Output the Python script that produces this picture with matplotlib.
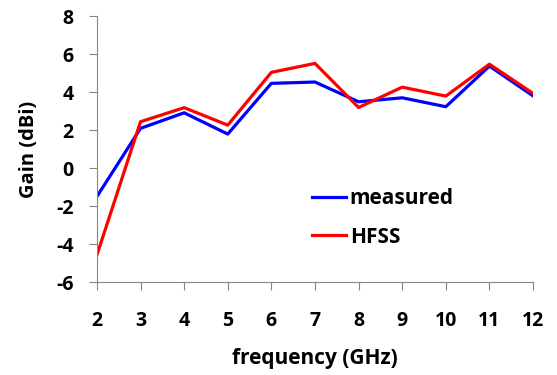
import matplotlib
matplotlib.use("Agg")
import matplotlib.pyplot as plt

## datos
freq = [2, 3, 4, 5, 6, 7, 8, 9, 10, 11, 12]
measured = [-1.5, 2.09, 2.91, 1.79, 4.46, 4.53, 3.49, 3.70, 3.23, 5.37, 3.80]
hfss = [-4.58, 2.44, 3.18, 2.26, 5.04, 5.51, 3.19, 4.26, 3.79, 5.47, 3.93]
yticks = [-6, -4, -2, 0, 2, 4, 6, 8]

plt.rcParams['font.family'] = ['Open Sans', 'DejaVu Sans']
plt.rcParams['font.weight'] = 'bold'
plt.rcParams['axes.unicode_minus'] = False

fig = plt.figure(figsize=(5.57, 3.75), dpi=100)
ax = fig.add_axes([0.174, 0.248, 0.783, 0.709])

ax.plot(freq, measured, color='#0000ff', lw=2.3, label='measured')
ax.plot(freq, hfss, color='#ff0000', lw=2.3, label='HFSS')

ax.set_xlim(2, 12)
ax.set_ylim(-6, 8)
ax.set_xticks(freq)
ax.set_yticks(yticks)

for s in ['top', 'right']:
    ax.spines[s].set_visible(False)
for s in ['left', 'bottom']:
    ax.spines[s].set_color('#868686')
ax.tick_params(axis='both', colors='#868686', labelcolor='black', labelsize=14, length=5.8)
ax.tick_params(axis='x', pad=15)
ax.tick_params(axis='y', pad=11)
for lab in ax.get_xticklabels() + ax.get_yticklabels():
    lab.set_fontweight('bold')

ax.set_xlabel('frequency (GHz)', fontsize=15, fontweight='bold')
ax.set_ylabel('Gain (dBi)', fontsize=14.5, fontweight='bold')
ax.xaxis.set_label_coords(0.5, -0.25)
ax.yaxis.set_label_coords(-0.133, 0.5)

ax.legend(loc='center left', bbox_to_anchor=(0.47, 0.242), frameon=False,
          borderpad=0, handlelength=1.6, handletextpad=0.2, labelspacing=0.85,
          prop={'weight': 'bold', 'size': 15})

fig.savefig('out.png', dpi=100)
